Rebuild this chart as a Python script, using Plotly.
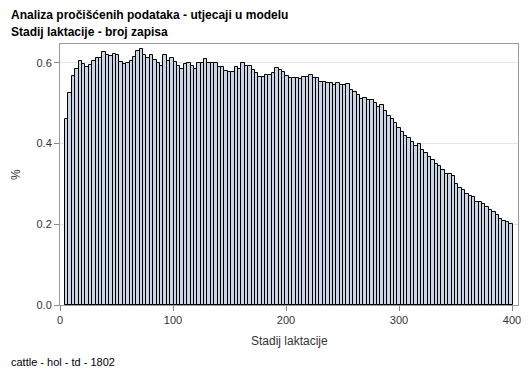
import plotly.graph_objects as go

# Stadij laktacije: 3-day bins from day 5 to 400 (bin centres)
days = [6 + 3 * i for i in range(132)]
pct = [
    0.460, 0.525, 0.568, 0.585, 0.605, 0.597, 0.590, 0.595, 0.605, 0.612,
    0.612, 0.628, 0.620, 0.618, 0.622, 0.620, 0.602, 0.598, 0.600, 0.606,
    0.614, 0.630, 0.634, 0.620, 0.612, 0.620, 0.607, 0.600, 0.592, 0.620,
    0.605, 0.612, 0.603, 0.592, 0.584, 0.598, 0.600, 0.593, 0.585, 0.600,
    0.600, 0.609, 0.600, 0.600, 0.600, 0.589, 0.589, 0.580, 0.578, 0.578,
    0.590, 0.585, 0.600, 0.592, 0.592, 0.583, 0.575, 0.564, 0.564, 0.570,
    0.570, 0.575, 0.587, 0.583, 0.577, 0.568, 0.563, 0.563, 0.563, 0.560,
    0.564, 0.564, 0.570, 0.563, 0.563, 0.553, 0.553, 0.550, 0.550, 0.545,
    0.550, 0.545, 0.545, 0.548, 0.534, 0.527, 0.520, 0.510, 0.513, 0.508,
    0.508, 0.500, 0.491, 0.495, 0.481, 0.468, 0.460, 0.450, 0.440, 0.429,
    0.420, 0.415, 0.404, 0.393, 0.400, 0.385, 0.377, 0.367, 0.360, 0.349,
    0.345, 0.334, 0.324, 0.324, 0.321, 0.299, 0.290, 0.284, 0.274, 0.269,
    0.267, 0.255, 0.256, 0.250, 0.244, 0.236, 0.230, 0.224, 0.213, 0.209,
    0.207, 0.201,
]
x_ticks = [0, 100, 200, 300, 400]
y_ticks = [0.0, 0.2, 0.4, 0.6]
y_tick_text = ["0.0", "0.2", "0.4", "0.6"]

title1 = "Analiza pročišćenih podataka - utjecaji u modelu"
title2 = "Stadij laktacije - broj zapisa"
x_title = "Stadij laktacije"
y_title = "%"
footnote = "cattle - hol - td - 1802"

FONT = "Liberation Sans, Arial, sans-serif"

fig = go.Figure(
    go.Bar(
        x=days,
        y=pct,
        width=3,
        marker=dict(color="#cad5e5", line=dict(color="black", width=1)),
    )
)

# page has an 8px body margin; figure sized to fill the 529x378 window
OFF = 8
W, H = 529 - 2 * OFF, 378 - 2 * OFF
ml, mr, mt, mb = 60 - OFF, W - (518 - OFF), 44 - OFF, H - (305 - OFF)
fig.update_layout(
    width=W,
    height=H,
    margin=dict(l=ml, r=mr, t=mt, b=mb, pad=0, autoexpand=False),
    paper_bgcolor="white",
    plot_bgcolor="white",
    bargap=0,
    showlegend=False,
    font=dict(family=FONT, size=11, color="#333333"),
)
fig.update_xaxes(
    range=[0, 405.3],
    tickvals=x_ticks,
    ticks="outside",
    ticklen=5,
    tickcolor="#888888",
    showline=True,
    linecolor="#9a9a9a",
    mirror=True,
    showgrid=False,
    zeroline=False,
    automargin=False,
    ticklabeloverflow="allow",
    tickfont=dict(size=11, color="#333333"),
)
fig.update_yaxes(
    range=[0, 0.647],
    tickvals=y_ticks,
    ticktext=y_tick_text,
    ticks="outside",
    ticklen=5,
    tickcolor="#888888",
    showline=True,
    linecolor="#9a9a9a",
    mirror=True,
    showgrid=True,
    gridcolor="#e4e4e4",
    zeroline=False,
    automargin=False,
    ticklabeloverflow="allow",
    tickfont=dict(size=11, color="#333333"),
)

pw = W - ml - mr
ph = H - mt - mb
def px(xp):
    return (xp - OFF - ml) / pw
def py(yp):
    return (H - mb - (yp - OFF)) / ph

fig.add_annotation(text="<b>" + title1 + "</b>", x=px(9), y=py(15), xref="paper", yref="paper",
                   xanchor="left", yanchor="middle", showarrow=False,
                   font=dict(family=FONT, size=12, color="black"))
fig.add_annotation(text="<b>" + title2 + "</b>", x=px(9), y=py(32), xref="paper", yref="paper",
                   xanchor="left", yanchor="middle", showarrow=False,
                   font=dict(family=FONT, size=12, color="black"))
fig.add_annotation(text=x_title, x=px(289), y=py(341), xref="paper", yref="paper",
                   xanchor="center", yanchor="middle", showarrow=False,
                   font=dict(family=FONT, size=12, color="#333333"))
fig.add_annotation(text=y_title, x=px(16), y=py(175), xref="paper", yref="paper",
                   xanchor="center", yanchor="middle", showarrow=False, textangle=-90,
                   font=dict(family=FONT, size=12, color="#333333"))
fig.add_annotation(text=footnote, x=px(9), y=py(362), xref="paper", yref="paper",
                   xanchor="left", yanchor="middle", showarrow=False,
                   font=dict(family=FONT, size=11, color="black"))

fig.write_html("out.html")
